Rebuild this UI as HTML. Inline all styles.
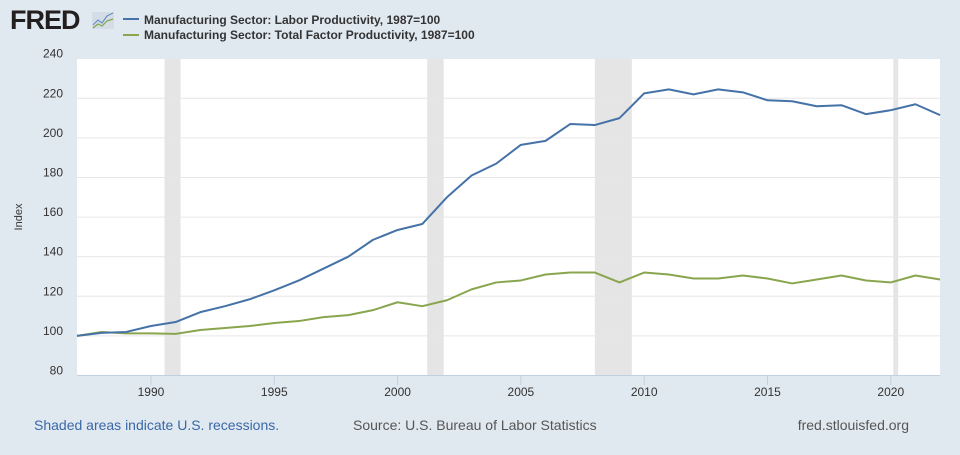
<!DOCTYPE html>
<html><head><meta charset="utf-8"><style>
body{margin:0;width:960px;height:450px;background:#e1e9f0;font-family:"Liberation Sans",Arial,sans-serif;overflow:hidden}
</style></head><body>
<svg id="s" width="960" height="450" xmlns="http://www.w3.org/2000/svg" font-family="Liberation Sans, Arial, sans-serif">
<rect width="960" height="450" fill="#e1e9f0"/>
<text x="10" y="29" font-size="27" font-weight="bold" fill="#231f20" letter-spacing="-1">FRED</text>
<rect x="92" y="12" width="22" height="17" fill="#d4dde6"/>
<polyline points="93,25 98,20 102,23 107,16 113,13" fill="none" stroke="#6a8fc0" stroke-width="1.2"/>
<polyline points="93,28 98,24 102,26 107,21 113,19" fill="none" stroke="#7fa64a" stroke-width="1.2"/>
<line x1="123" y1="19" x2="139" y2="19" stroke="#4572a7" stroke-width="2"/>
<line x1="123" y1="35" x2="139" y2="35" stroke="#89a54e" stroke-width="2"/>
<text x="144" y="24" font-size="12" font-weight="bold" fill="#333">Manufacturing Sector: Labor Productivity, 1987=100</text>
<text x="144" y="39" font-size="12" font-weight="bold" fill="#333">Manufacturing Sector: Total Factor Productivity, 1987=100</text>
<rect x="77" y="59" width="863" height="316" fill="#fff"/>
<g id="g"></g>
<text x="22" y="217" font-size="11" fill="#333" transform="rotate(-90 22 217)" text-anchor="middle">Index</text>
<text x="34" y="430" font-size="14" fill="#3a67a8">Shaded areas indicate U.S. recessions.</text>
<text x="353" y="430" font-size="14" fill="#555">Source: U.S. Bureau of Labor Statistics</text>
<text x="909" y="430" font-size="14" fill="#555" text-anchor="end">fred.stlouisfed.org</text>
</svg>
<script>
const g=document.getElementById('g');let h='';
const X=y=>77+(y-1987)*24.66, Y=v=>375.5-(v-80)*1.98;
[[1990.55,1991.2],[2001.2,2001.87],[2008,2009.5],[2020.1,2020.3]].forEach(r=>{h+=`<rect x="${X(r[0])}" y="59" width="${X(r[1])-X(r[0])}" height="316" fill="#e5e5e5"/>`});
for(let v=100;v<=220;v+=20)h+=`<line x1="77" x2="940" y1="${Y(v)}" y2="${Y(v)}" stroke="#e6e6e6"/>`;
for(let v=80;v<=240;v+=20)h+=`<text x="63" y="${Y(v)-1}" font-size="12" fill="#333" text-anchor="end">${v}</text>`;
h+=`<line x1="77" x2="940" y1="375.5" y2="375.5" stroke="#c0d0e0"/>`;
for(let y=1990;y<=2020;y+=5){h+=`<line x1="${X(y)}" x2="${X(y)}" y1="375" y2="385" stroke="#c0d0e0"/><text x="${X(y)}" y="396" font-size="12" fill="#333" text-anchor="middle">${y}</text>`}
const L=[100,101.5,102,105,107,112,115,118.5,123,128,134,140,148.5,153.5,156.5,170,181,187,196.5,198.5,207,206.5,210,222.5,224.5,222,224.5,223,219,218.5,216,216.5,212,214,217,211.5];
const T=[100,102,101.3,101.3,101,103,104,105,106.5,107.5,109.5,110.5,113,117,115,118,123.5,127,128,131,132,132,127,132,131,129,129,130.5,129,126.5,128.5,130.5,128,127,130.5,128.5];
const pl=(a,c)=>`<polyline fill="none" stroke="${c}" stroke-width="2" stroke-linejoin="round" points="${a.map((v,i)=>X(1987+i)+','+Y(v)).join(' ')}"/>`;
h+=pl(T,'#89a54e')+pl(L,'#4572a7');
g.innerHTML=h;
</script>
</body></html>
